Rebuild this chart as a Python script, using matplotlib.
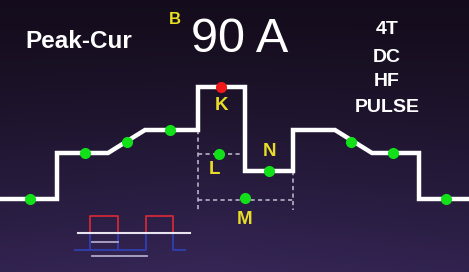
import numpy as np
import matplotlib
matplotlib.use('Agg')
import matplotlib.pyplot as plt

# welding profile (screen pixels)
prof_x = [0, 57, 57, 108, 145, 198, 198, 245, 245, 293, 293, 335, 372, 419, 419, 469]
prof_y = [199, 199, 153, 153, 130, 130, 87, 87, 171, 171, 130, 130, 153, 153, 199, 199]

dot_x = [30, 85, 127, 170, 269, 351, 393, 446, 219, 245]
dot_y = [199, 153, 142, 130, 171, 142, 153, 199, 154, 198]
peak_dot = (221, 87)

labels = ['K', 'L', 'N', 'M']
label_x = [222, 215, 269, 245]
label_y = [105, 170, 151, 220]

mode_labels = ['4T', 'DC', 'HF', 'PULSE']
mode_y = [30, 57, 82, 107]

fig = plt.figure(figsize=(4.69, 2.72), dpi=100)
ax = fig.add_axes([0, 0, 1, 1])
ax.set_xlim(0, 469)
ax.set_ylim(272, 0)
ax.axis('off')

# background gradient
gy = np.linspace(0, 1, 272)[:, None]
gx = np.linspace(0, 1, 469)[None, :]
top = np.array([0.08, 0.05, 0.11])
bot = np.array([0.21, 0.15, 0.34])
t = (gy ** 1.3) * (1 - 0.25 * np.abs(gx - 0.45))
bg = top + (bot - top) * t[..., None]
ax.imshow(bg, extent=[0, 469, 272, 0], aspect='auto', zorder=0)

# dashed guide box
dash = dict(color='#b8b0c8', lw=1.2, ls=(0, (2.5, 2)), zorder=2)
ax.plot([198, 198], [130, 210], **dash)
ax.plot([198, 240], [154, 154], **dash)
ax.plot([198, 293], [200, 200], **dash)
ax.plot([293, 293], [171, 210], **dash)

ax.plot(prof_x, prof_y, color='white', lw=3.2, solid_joinstyle='miter', zorder=3)
ax.plot(dot_x, dot_y, 'o', color='#12e018', ms=8, mec='none', zorder=4)
ax.plot(*peak_dot, 'o', color='#f01818', ms=8, mec='none', zorder=4)

for lab, lx, ly in zip(labels, label_x, label_y):
    ax.text(lx, ly, lab, color='#e8dc28', fontsize=13.5, fontweight='bold',
            family='Liberation Sans', ha='center', va='center', zorder=5)

ax.text(25, 42, 'Peak-Cur', color='white', fontsize=17.5, fontweight='bold',
        family='Liberation Sans', ha='left', va='center')
ax.text(175, 20, 'B', color='#e8e020', fontsize=12, fontweight='bold',
        family='Liberation Sans', ha='center', va='center')
ax.text(240, 40, '90 A', color='white', fontsize=35,
        family='Liberation Sans', ha='center', va='center')
for lab, ly in zip(mode_labels, mode_y):
    ax.text(387, ly, lab, color='white', fontsize=14, fontweight='bold',
            family='Liberation Sans', ha='center', va='center')

# small pulse icon
ax.plot([90, 90, 118, 118], [233, 216, 216, 233], color='#d02838', lw=1.3, zorder=2)
ax.plot([146, 146, 173, 173], [233, 216, 216, 233], color='#d02838', lw=1.3, zorder=2)
ax.plot([75, 90, 90], [250, 250, 233], color='#3040b0', lw=1.3, zorder=2)
ax.plot([118, 118, 146, 146], [233, 250, 250, 233], color='#3040b0', lw=1.3, zorder=2)
ax.plot([173, 173, 185], [233, 250, 250], color='#3040b0', lw=1.3, zorder=2)
ax.plot([90, 118], [250, 250], color='#3040b0', lw=1.3, zorder=2)
ax.plot([78, 190], [233, 233], color='#e8e4f0', lw=1.5, zorder=3)
ax.plot([92, 118], [242, 242], color='#b0a8c8', lw=1.3, zorder=3)
ax.plot([92, 147], [256, 256], color='#b0a8c8', lw=1.3, zorder=3)

fig.savefig('out.png', dpi=100)
